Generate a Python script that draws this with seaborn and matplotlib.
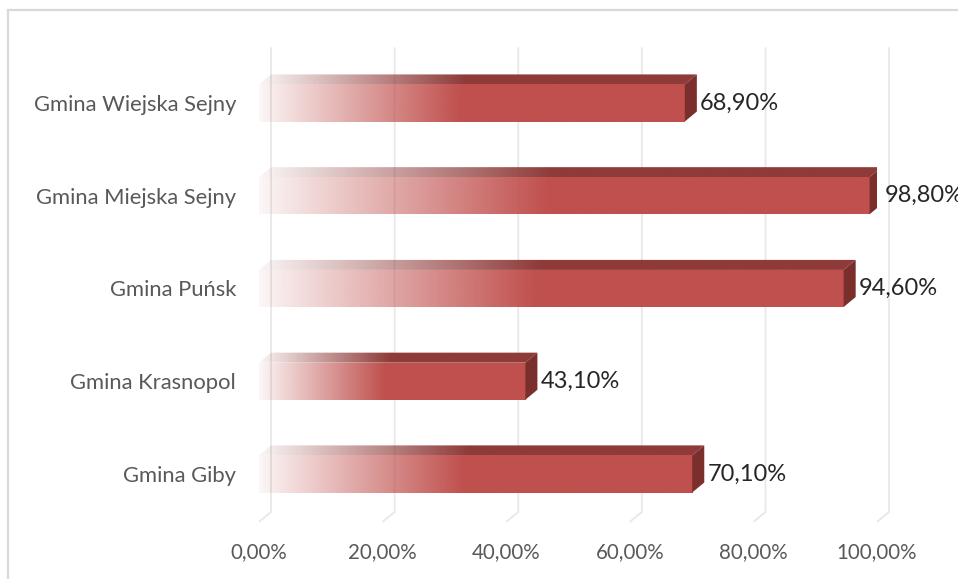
import numpy as np
import pandas as pd
import seaborn as sns
import matplotlib.pyplot as plt
from matplotlib.patches import Polygon, Rectangle

gminy = ['Gmina Wiejska Sejny', 'Gmina Miejska Sejny', 'Gmina Puńsk', 'Gmina Krasnopol', 'Gmina Giby']
procent = [68.9, 98.8, 94.6, 43.1, 70.1]
x_ticks = [0, 20, 40, 60, 80, 100]

RED = '#C0504D'
TOP = '#8E3B39'
SIDE = '#7A2F2D'
GRID = '#E8E8E8'

# 3D offsets (data units): depth to the right and up
DX = 1.95
DY = 0.108


def pl_pct(v):
    return '{:.2f}'.format(v).replace('.', ',') + '%'


def gradient_img(color, n=256, frac=0.47):
    rgb = np.array(plt.matplotlib.colors.to_rgb(color))
    t = np.linspace(0, 1, n)
    alpha = 0.05 + 0.95 * np.clip(t / frac, 0, 1)
    img = np.zeros((1, n, 4))
    img[0, :, :3] = rgb
    img[0, :, 3] = alpha
    return img


def draw_back_grid(ax, ticks, top, floor_back, floor_front):
    for t in ticks:
        ax.plot([t + DX, t + DX, t], [top, floor_back, floor_front], color=GRID,
                lw=1.3, zorder=1, clip_on=False, solid_capstyle='butt')


def draw_3d_bars(ax):
    for patch in list(ax.patches):
        x0, y0, w, h = patch.get_x(), patch.get_y(), patch.get_width(), patch.get_height()
        patch.set_facecolor('none')
        patch.set_edgecolor('none')
        yt = y0  # visual top (y axis inverted)
        # front face gradient
        im = ax.imshow(gradient_img(RED), extent=[x0, x0 + w, y0 + h, y0], aspect='auto',
                       zorder=3, interpolation='bilinear')
        im.set_clip_path(patch)
        # top face
        top = Polygon([(x0, yt), (x0 + DX, yt - DY), (x0 + w + DX, yt - DY), (x0 + w, yt)],
                      closed=True, facecolor='none', edgecolor='none')
        ax.add_patch(top)
        im2 = ax.imshow(gradient_img(TOP), extent=[x0, x0 + w + DX, yt, yt - DY], aspect='auto',
                        zorder=3, interpolation='bilinear')
        im2.set_clip_path(top)
        # side face
        side = Polygon([(x0 + w, yt), (x0 + w + DX, yt - DY), (x0 + w + DX, y0 + h - DY), (x0 + w, y0 + h)],
                       closed=True, facecolor=SIDE, edgecolor='none', zorder=4)
        ax.add_patch(side)


def add_value_labels(ax, values):
    for i, v in enumerate(values):
        ax.text(v + DX + 0.5, i, pl_pct(v), va='center', ha='left', fontsize=17,
                color='#262626', zorder=5, clip_on=False)


sns.set_style('white')
plt.rcParams['font.family'] = ['Lato', 'DejaVu Sans']

df = pd.DataFrame({'gmina': gminy, 'procent': procent})

fig = plt.figure(figsize=(9.58, 5.79), dpi=100)
ax = fig.add_axes([259 / 958, 1 - 529.6 / 579, 618 / 958, (529.6 - 42.7) / 579])
sns.barplot(data=df, x='procent', y='gmina', orient='h', width=0.4, color=RED,
            linewidth=0, ax=ax)

draw_back_grid(ax, x_ticks, -0.6, 4.41, 4.517)
draw_3d_bars(ax)
add_value_labels(ax, procent)

ax.set_xlim(0, 100)
ax.set_ylim(4.6, -0.65)
ax.set_xticks(x_ticks)
ax.set_xticklabels([pl_pct(t) for t in x_ticks])
ax.set_xlabel('')
ax.set_ylabel('')
ax.tick_params(axis='x', length=0, pad=9, labelsize=14.8, labelcolor='#595959')
ax.tick_params(axis='y', length=0, pad=16.5, labelsize=15.8, labelcolor='#595959')
for s in ax.spines.values():
    s.set_visible(False)
ax.grid(False)

fig.patches.append(Rectangle((8 / 958, -0.05), 1.2, 1 - 10 / 579 + 0.05, transform=fig.transFigure,
                             fill=False, edgecolor='#D9D9D9', lw=1.6, zorder=0))

fig.savefig('out.png', dpi=100)
